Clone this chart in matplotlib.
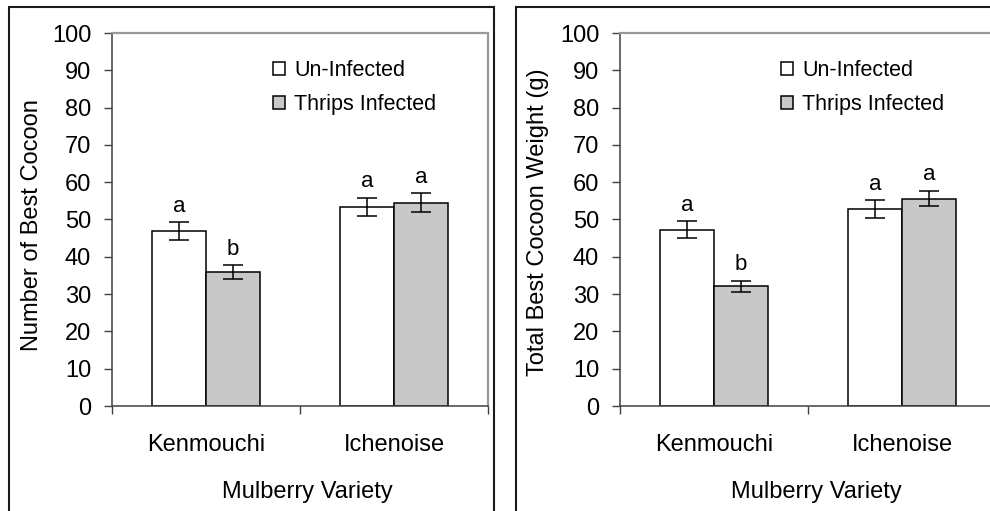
import matplotlib
matplotlib.use("Agg")
import matplotlib.pyplot as plt
from matplotlib.patches import Rectangle
from matplotlib.ticker import FixedLocator

plt.rcParams['font.family'] = ['Liberation Sans', 'DejaVu Sans']

# ================== 数据 ==================
varieties = ['Kenmouchi', 'Ichenoise']
series_names = ['Un-Infected', 'Thrips Infected']

# 左图: Number of Best Cocoon
count_uninf = [46.9, 53.4]
count_uninf_err = [2.4, 2.4]
count_thrips = [35.9, 54.5]
count_thrips_err = [1.8, 2.5]
count_letters_uninf = ['a', 'a']
count_letters_thrips = ['b', 'a']

# 右图: Total Best Cocoon Weight (g)
weight_uninf = [47.3, 52.8]
weight_uninf_err = [2.2, 2.4]
weight_thrips = [32.1, 55.6]
weight_thrips_err = [1.5, 2.1]
weight_letters_uninf = ['a', 'a']
weight_letters_thrips = ['b', 'a']

y_ticks = list(range(0, 101, 10))

FS = 17        # 坐标轴文字
FS_LEG = 15.5  # 图例
FS_LET = 16    # 显著性字母
BAR_W = 0.287
GRAY = '#C8C8C8'


def draw_panel(ax, uninf, uninf_err, thrips, thrips_err, let_u, let_t,
               ylabel, ylab_pos, xlab_pos):
    x = list(range(len(varieties)))
    xu = [i - BAR_W / 2 for i in x]
    xt = [i + BAR_W / 2 for i in x]

    ax.bar(xu, uninf, BAR_W, color='white', edgecolor='black', linewidth=1.1,
           label=series_names[0], zorder=2)
    ax.bar(xt, thrips, BAR_W, color=GRAY, edgecolor='black', linewidth=1.1,
           label=series_names[1], zorder=2)
    ekw = dict(fmt='none', ecolor='black', elinewidth=1.1, capsize=7,
               capthick=1.1, zorder=3)
    ax.errorbar(xu, uninf, yerr=uninf_err, **ekw)
    ax.errorbar(xt, thrips, yerr=thrips_err, **ekw)

    # 显著性字母
    for xs, ys, es, ls in [(xu, uninf, uninf_err, let_u), (xt, thrips, thrips_err, let_t)]:
        for xi, yi, ei, li in zip(xs, ys, es, ls):
            ax.annotate(li, (xi, yi + ei), xytext=(0, 7.5), textcoords='offset points',
                        ha='center', va='baseline', fontsize=FS_LET)

    ax.set_xlim(-0.5, 1.5)
    ax.set_ylim(0, 100)
    ax.set_yticks(y_ticks)
    ax.tick_params(axis='y', direction='out', length=6, width=1, color='#404040',
                   labelsize=FS, pad=9)

    # x轴: 标签在类别中心, 刻度线在类别边界
    ax.set_xticks(x)
    ax.set_xticklabels(varieties, fontsize=FS)
    ax.xaxis.set_minor_locator(FixedLocator([-0.5, 0.5, 1.5]))
    ax.tick_params(axis='x', which='major', length=0, pad=20)
    ax.tick_params(axis='x', which='minor', direction='out', length=5.5, width=1,
                   color='#404040')

    for s in ['left', 'bottom']:
        ax.spines[s].set_color('#404040')
        ax.spines[s].set_linewidth(1.1)
    for s in ['top', 'right']:
        ax.spines[s].set_color('#999999')
        ax.spines[s].set_linewidth(1.6)

    ax.set_ylabel(ylabel, fontsize=FS)
    ax.yaxis.set_label_coords(*ylab_pos)
    ax.yaxis.label.set_va('center')
    ax.set_xlabel('Mulberry Variety', fontsize=FS)
    ax.xaxis.set_label_coords(*xlab_pos)
    ax.xaxis.label.set_va('center')

    ax.legend(loc='upper left', bbox_to_anchor=(0.428, 0.928), frameon=False,
              fontsize=FS_LEG, handlelength=0.56, handleheight=0.56,
              handletextpad=0.42, labelspacing=0.62, borderpad=0,
              borderaxespad=0)


fig = plt.figure(figsize=(9.9, 5.11), dpi=100)

# 外框
fig.patches.append(Rectangle((8.5 / 990, -0.05), 485 / 990, 1.05 - 7.5 / 511,
                             transform=fig.transFigure, fill=False,
                             edgecolor='#1a1a1a', linewidth=1.5))
fig.patches.append(Rectangle((516 / 990, -0.05), 0.6, 1.05 - 7.5 / 511,
                             transform=fig.transFigure, fill=False,
                             edgecolor='#1a1a1a', linewidth=1.5))

ax1 = fig.add_axes([112 / 990, 105 / 511, 376 / 990, 373 / 511])
ax2 = fig.add_axes([620 / 990, 105 / 511, 376 / 990, 373 / 511])

draw_panel(ax1, count_uninf, count_uninf_err, count_thrips, count_thrips_err,
           count_letters_uninf, count_letters_thrips,
           'Number of Best Cocoon', (-0.213, 0.484), (0.519, -0.231))
draw_panel(ax2, weight_uninf, weight_uninf_err, weight_thrips, weight_thrips_err,
           weight_letters_uninf, weight_letters_thrips,
           'Total Best Cocoon Weight (g)', (-0.218, 0.493), (0.521, -0.231))

fig.savefig('out.png', dpi=100)
